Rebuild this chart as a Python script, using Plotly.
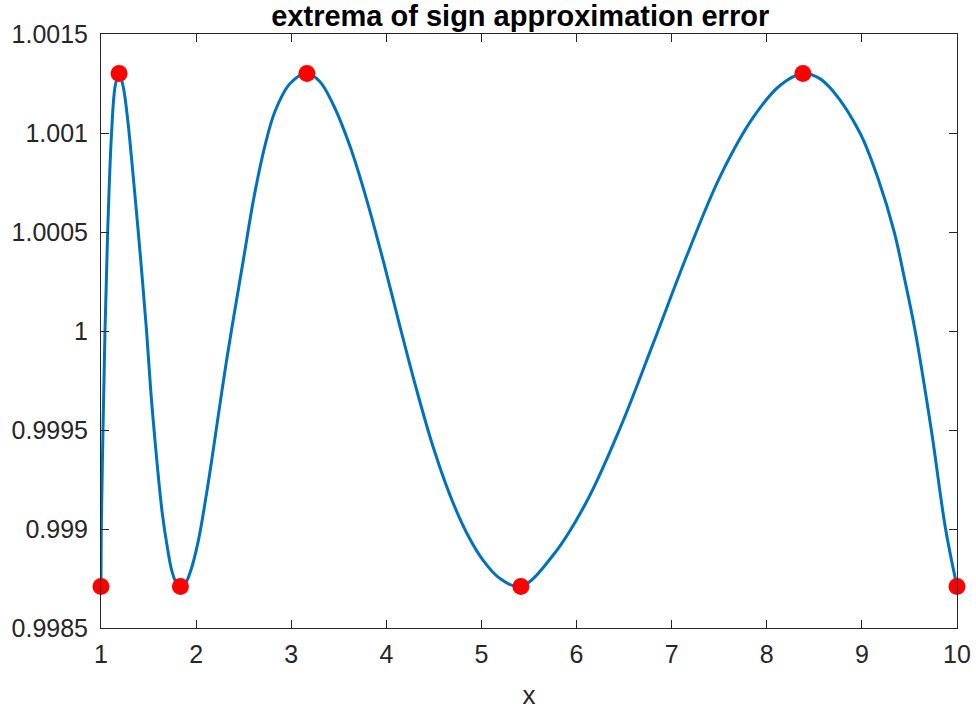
import plotly.graph_objects as go

# curve (x, value)
curve_x = [1.000, 1.003, 1.021, 1.042, 1.070, 1.111, 1.150, 1.190,
           1.235, 1.280, 1.335, 1.392, 1.435, 1.479, 1.523, 1.567, 1.644, 1.700, 1.744, 1.790, 1.835,
           1.880, 1.937, 2.023, 2.120, 2.165, 2.323, 2.497, 2.610, 2.726, 2.830, 2.988, 3.165,
           3.300, 3.445, 3.620, 3.795, 3.970, 4.145, 4.320, 4.495, 4.670, 4.845, 5.020, 5.195, 5.415,
           5.757, 6.108, 6.458, 6.808, 7.159, 7.509, 7.859, 8.139, 8.380,
           8.540, 8.700, 8.980, 9.170, 9.340, 9.450, 9.560, 9.730, 9.880, 10.000]
curve_y = [0.99871, 0.99900, 0.99950, 1.00000, 1.00050, 1.00100, 1.00124, 1.00130,
           1.00123, 1.00107, 1.00080, 1.00050, 1.00026, 1.00000, 0.99970, 0.99945, 0.99908, 0.99890, 0.99879, 0.99873, 0.99871,
           0.99872, 0.99878, 0.99894, 0.99921, 0.99935, 0.99986, 1.00036, 1.00068, 1.00094, 1.00111, 1.00125, 1.00130,
           1.00126, 1.00114, 1.00093, 1.00066, 1.00035, 1.00002, 0.99970, 0.99941, 0.99917, 0.99898, 0.99884, 0.99875, 0.99871,
           0.99887, 0.99914, 0.99951, 0.99994, 1.00038, 1.00078, 1.00108, 1.00124, 1.00130,
           1.00128, 1.00121, 1.00100, 1.00077, 1.00050, 1.00026, 1.00000, 0.99950, 0.99900, 0.99871]

# extrema markers
ext_x = [1.0, 1.19, 1.835, 3.165, 5.415, 8.38, 10.0]
ext_y = [0.99871, 1.0013, 0.99871, 1.0013, 0.99871, 1.0013, 0.99871]

x_ticks = [1, 2, 3, 4, 5, 6, 7, 8, 9, 10]
x_ticktext = ["1", "2", "3", "4", "5", "6", "7", "8", "9", "10"]
y_ticks = [0.9985, 0.999, 0.9995, 1.0, 1.0005, 1.001, 1.0015]
y_ticktext = ["0.9985", "0.999", "0.9995", "1", "1.0005", "1.001", "1.0015"]

axis_color = "#262626"
font_family = "Liberation Sans, Arial, sans-serif"

fig = go.Figure()
fig.add_trace(go.Scatter(
    x=curve_x, y=curve_y, mode="lines",
    line=dict(color="#0072BD", width=3, shape="spline", smoothing=1.0),
    showlegend=False, hoverinfo="skip"))
fig.add_trace(go.Scatter(
    x=ext_x, y=ext_y, mode="markers",
    marker=dict(color="#FF0000", size=17, line=dict(width=0)),
    cliponaxis=False, showlegend=False))

fig.update_layout(
    width=976, height=713,
    margin=dict(l=101, r=19, t=34, b=85),
    paper_bgcolor="white", plot_bgcolor="white",
    font=dict(family=font_family, size=25, color=axis_color),
    title=dict(text="<b>extrema of sign approximation error</b>",
               x=0.533, xanchor="center", y=0.978, yanchor="middle",
               font=dict(family=font_family, size=29, color="#000000")),
    xaxis=dict(range=[1, 10], tickvals=x_ticks, ticktext=x_ticktext,
               automargin=False,
               showgrid=False, zeroline=False, showline=True, linecolor=axis_color,
               linewidth=1, mirror="ticks", ticks="inside", ticklen=8,
               tickcolor=axis_color, tickwidth=1, ticklabelstandoff=4,
               tickfont=dict(size=25, color=axis_color),
               title=dict(text="x", font=dict(size=26, color=axis_color), standoff=18)),
    yaxis=dict(range=[0.9985, 1.0015], tickvals=y_ticks, ticktext=y_ticktext,
               automargin=False,
               showgrid=False, zeroline=False, showline=True, linecolor=axis_color,
               linewidth=1, mirror="ticks", ticks="inside", ticklen=8,
               tickcolor=axis_color, tickwidth=1, ticklabelstandoff=7,
               tickfont=dict(size=25, color=axis_color)),
)

fig.write_html("out.html",
               config={"displayModeBar": False},
               post_script="document.body.style.margin='0';document.body.style.overflow='hidden';")
